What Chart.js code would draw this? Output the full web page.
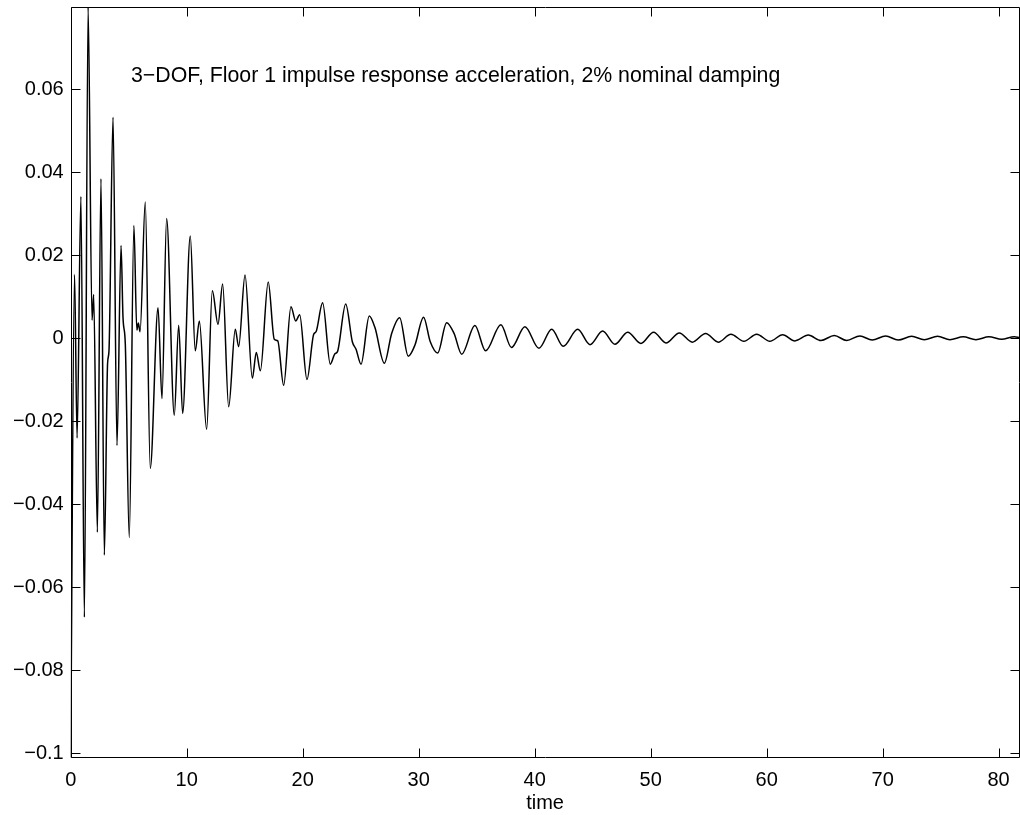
<!DOCTYPE html>
<html>
<head>
<meta charset="utf-8">
<script src="https://cdn.jsdelivr.net/npm/chart.js@4/dist/chart.umd.min.js"></script>
<style>
  html, body { margin: 0; padding: 0; background: #fff; }
  #wrap { width: 1020px; height: 815px; }
</style>
</head>
<body>
<div id="wrap"><canvas id="c" width="1020" height="815"></canvas></div>
<script>
// ---- data (time, acceleration) ----
const times = [
  0, 0.33, 0.55, 0.88, 1.18, 1.50, 1.84, 1.98, 2.30, 2.61, 2.90, 3.18, 3.30, 3.65, 3.99, 4.34, 4.51, 4.71, 5.05,
  5.45, 5.70, 5.83, 5.98, 6.43, 6.86, 7.53, 7.87, 8.27, 8.93, 9.31, 9.65, 10.31, 10.74, 11.09, 11.72, 12.21,
  12.70, 13.10, 13.62, 14.19, 14.48, 15.03, 15.66, 16.00, 16.35, 17.03, 17.55, 17.85, 18.36, 18.99, 19.40,
  19.74, 20.37, 20.95, 21.15, 21.72, 22.38, 22.78, 23.00, 23.71, 24.28, 24.60, 25.03, 25.74, 26.23, 27.04,
  27.67, 28.36, 29.10, 29.68, 30.42, 31.00, 31.64, 32.41, 33.05, 33.71, 34.85, 35.77, 37.09, 38.00, 39.16,
  40.37, 41.47, 42.46, 43.71, 44.77, 45.86, 46.92, 48.02, 49.16, 50.26, 51.32, 52.47, 53.59, 54.74, 55.83,
  56.92, 58.04, 59.14, 60.28, 61.38, 62.44, 63.59, 64.68, 65.83, 66.90, 68.04, 69.10, 70.26, 71.34, 72.50,
  73.59, 74.74, 75.80, 76.95, 78.04, 79.16, 80.26, 81.35, 81.80
];
const accel = [
  -0.1010, 0.0154, -0.0240, 0.0342, -0.0672, 0.0798, 0.0044, 0.0106, -0.0467, 0.0385, -0.0522, -0.0060, -0.0030, 0.0533, -0.0258, 0.0224, 0.0050, -0.0015, -0.0480,
  0.0272, 0.0020, 0.0037, 0.0016, 0.0329, -0.0313, 0.0074, -0.0145, 0.0289, -0.0185, 0.0032, -0.0181, 0.0247, -0.0030, 0.0042, -0.0219, 0.0115,
  0.0034, 0.0131, -0.0165, 0.0022, -0.0020, 0.0153, -0.0096, -0.0034, -0.0078, 0.0136, -0.0002, -0.0006, -0.0113, 0.0076, 0.0042,
  0.0057, -0.0099, 0.0010, 0.0016, 0.0086, -0.0062, -0.0037, -0.0032, 0.0083, -0.0008, -0.0026, -0.0062, 0.0054, 0.0026, -0.0060,
  0.0012, 0.0050, -0.0043, -0.0016, 0.0051, -0.0008, -0.0035, 0.0038, 0.0012, -0.0038, 0.0031, -0.0030, 0.0033, -0.0022, 0.0028,
  -0.0024, 0.0022, -0.0019, 0.0022, -0.0015, 0.0018, -0.0014, 0.0015, -0.0012, 0.0015, -0.0011, 0.0013, -0.0009, 0.0012, -0.0009,
  0.0010, -0.0007, 0.0010, -0.0007, 0.0009, -0.0006, 0.0008, -0.0005, 0.0007, -0.0005, 0.0006, -0.0004, 0.0006, -0.0004, 0.0005,
  -0.0003, 0.0005, -0.0003, 0.0004, -0.0003, 0.0004, -0.0002, 0.0004, 0.0002
];
const xTicks = [0, 10, 20, 30, 40, 50, 60, 70, 80];
const yTicks = [-0.1, -0.08, -0.06, -0.04, -0.02, 0, 0.02, 0.04, 0.06];
const xLabel = 'time';
const plotText = '3\u2212DOF, Floor 1 impulse response acceleration, 2% nominal damping';
const plotTextAt = [5.2, 0.0632];
const xRange = [0, 81.8];
const yRange = [-0.1012, 0.0798];

const FONT = '"Liberation Sans", Arial, Helvetica, sans-serif';

function fmtY(v) {
  if (Math.abs(v) < 1e-12) return '0';
  let s = String(Math.round(v * 1000) / 1000);
  return s.replace('-', '\u2212');
}

const framePlugin = {
  id: 'frame',
  afterDraw(chart) {
    const ctx = chart.ctx;
    const a = chart.chartArea;
    const xs = chart.scales.x, ys = chart.scales.y;
    const L = Math.round(a.left) - 0.5 + 1, R = Math.round(a.right) - 0.5;
    const T = Math.round(a.top) + 0.5, B = Math.round(a.bottom) - 0.5;
    ctx.save();
    ctx.strokeStyle = '#000';
    ctx.lineWidth = 1;
    ctx.beginPath();
    ctx.rect(L, T, R - L, B - T);
    const tl = 9;
    xTicks.forEach(v => {
      const px = Math.round(xs.getPixelForValue(v)) + 0.5;
      ctx.moveTo(px, B); ctx.lineTo(px, B - tl);
      ctx.moveTo(px, T); ctx.lineTo(px, T + tl);
    });
    yTicks.forEach(v => {
      const py = Math.round(ys.getPixelForValue(v)) + 0.5;
      ctx.moveTo(L, py); ctx.lineTo(L + tl, py);
      ctx.moveTo(R, py); ctx.lineTo(R - tl, py);
    });
    ctx.stroke();
    // in-plot text label
    ctx.fillStyle = '#000';
    ctx.font = '21.3px ' + FONT;
    ctx.textAlign = 'left';
    ctx.textBaseline = 'middle';
    ctx.fillText(plotText, xs.getPixelForValue(plotTextAt[0]), ys.getPixelForValue(plotTextAt[1]));
    ctx.restore();
  }
};

const points = times.map((t, i) => ({ x: t, y: accel[i] }));

new Chart(document.getElementById('c'), {
  type: 'scatter',
  data: {
    datasets: [{
      data: points,
      showLine: true,
      borderColor: '#000',
      borderWidth: 1.5,
      pointRadius: 0,
      pointHoverRadius: 0,
      cubicInterpolationMode: 'monotone',
      fill: false
    }]
  },
  options: {
    responsive: false,
    animation: false,
    events: [],
    layout: { padding: { top: 7.3, right: 0.5, left: 0, bottom: 0 } },
    plugins: { legend: { display: false }, tooltip: { enabled: false }, title: { display: false } },
    scales: {
      x: {
        type: 'linear',
        min: xRange[0], max: xRange[1],
        afterBuildTicks: s => { s.ticks = xTicks.map(v => ({ value: v })); },
        afterFit: s => { s.height = 56.7; s.paddingLeft = 0; s.paddingRight = 0; },
        grid: { display: false, drawTicks: false },
        border: { display: false },
        ticks: {
          color: '#000', padding: 10, maxRotation: 0, autoSkip: false,
          font: { family: FONT, size: 20 },
          callback: v => String(v)
        },
        title: {
          display: true, text: xLabel, color: '#000',
          font: { family: FONT, size: 20 },
          padding: { top: 0, bottom: 0 }
        }
      },
      y: {
        type: 'linear',
        min: yRange[0], max: yRange[1],
        afterBuildTicks: s => { s.ticks = yTicks.map(v => ({ value: v })); },
        afterFit: s => { s.width = 70.7; s.paddingTop = 0; s.paddingBottom = 0; },
        grid: { display: false, drawTicks: false },
        border: { display: false },
        ticks: {
          color: '#000', padding: 7, autoSkip: false,
          font: { family: FONT, size: 20 },
          callback: v => fmtY(v)
        }
      }
    }
  },
  plugins: [framePlugin]
});
</script>
</body>
</html>
